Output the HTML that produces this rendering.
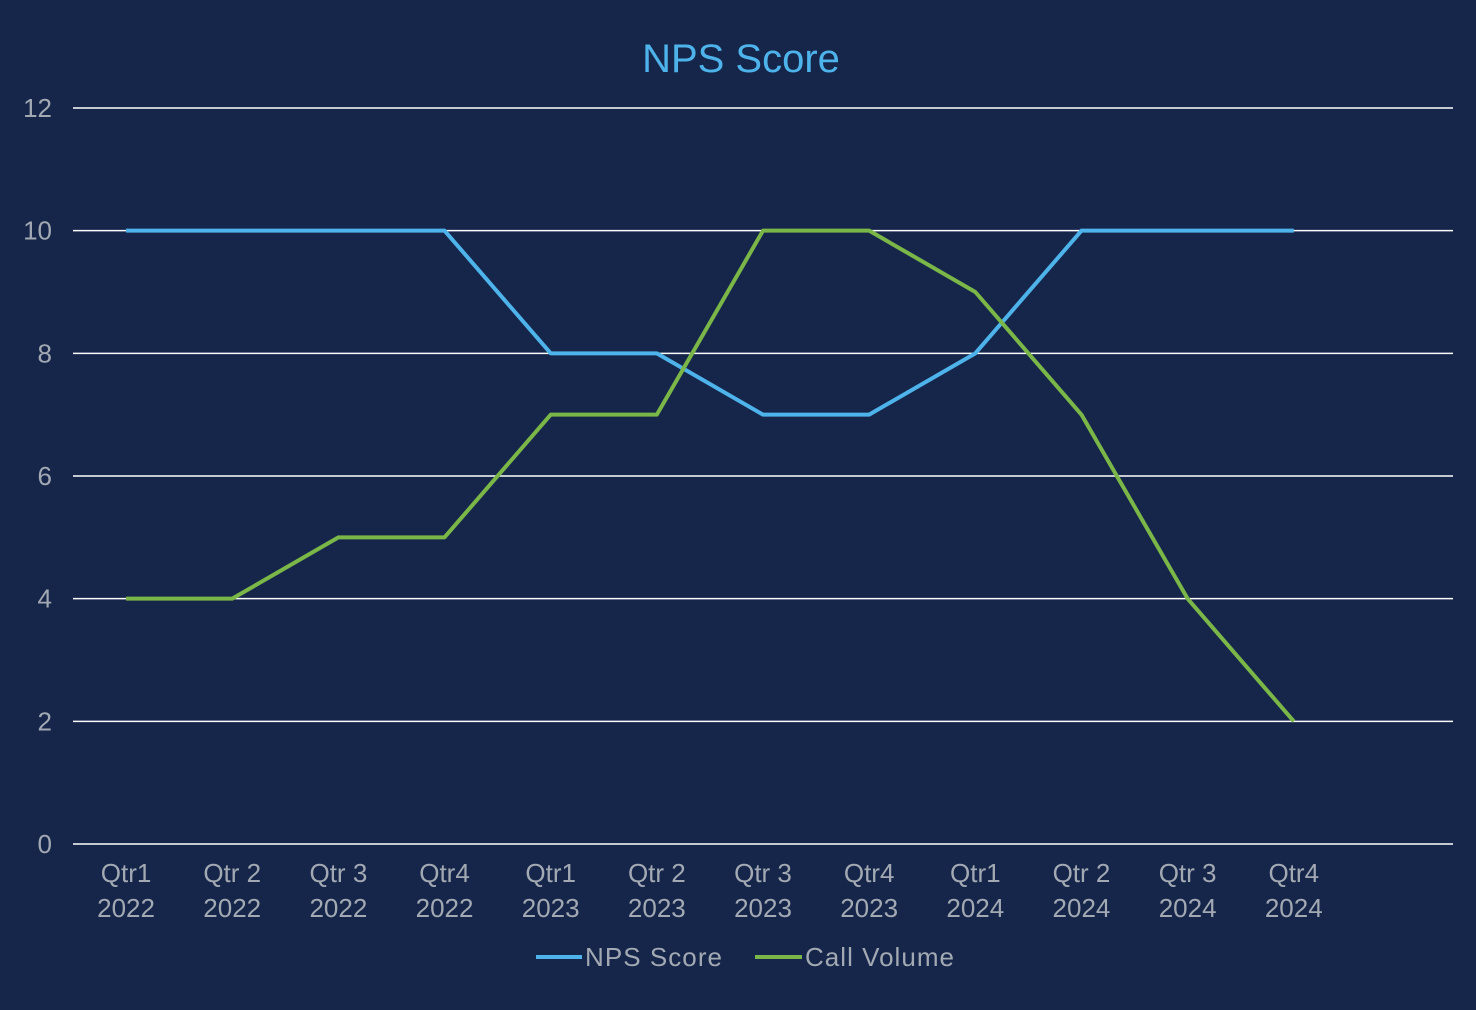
<!DOCTYPE html>
<html><head><meta charset="utf-8">
<style>
html,body{margin:0;padding:0;background:#15264a;}
svg{display:block;font-family:"Liberation Sans",sans-serif;}
</style></head>
<body>
<svg id="chart" width="1476" height="1010" viewBox="0 0 1476 1010">
<rect width="1476" height="1010" fill="#15264a"/>
<text x="741" y="72" text-anchor="middle" font-size="40" fill="#4db3ea">NPS Score</text>
<g id="grid"></g><g id="yticks"></g><g id="xticks"></g><g id="series"></g>
<g>
<line x1="536" y1="957" x2="582" y2="957" stroke="#4db3ea" stroke-width="4"/>
<text x="585" y="966" font-size="26" fill="#a3a9b3" textLength="137">NPS Score</text>
<line x1="755" y1="957" x2="802" y2="957" stroke="#7ab648" stroke-width="4"/>
<text x="805" y="966" font-size="26" fill="#a3a9b3" textLength="149">Call Volume</text>
</g>
</svg>
<script>
const categories=[["Qtr1","2022"],["Qtr 2","2022"],["Qtr 3","2022"],["Qtr4","2022"],["Qtr1","2023"],["Qtr 2","2023"],["Qtr 3","2023"],["Qtr4","2023"],["Qtr1","2024"],["Qtr 2","2024"],["Qtr 3","2024"],["Qtr4","2024"]];
const npsValues=[10,10,10,10,8,8,7,7,8,10,10,10];
const callValues=[4,4,5,5,7,7,10,10,9,7,4,2];
const yTicks=[0,2,4,6,8,10,12];
const SVGNS="http://www.w3.org/2000/svg";
const plotLeft=73,plotRight=1453,plotTop=108,plotBottom=844,slotCount=13,yMaxVal=12;
const bandW=(plotRight-plotLeft)/slotCount;
function xs(i){return plotLeft+bandW*(i+0.5);}
function ys(v){return plotBottom-(plotBottom-plotTop)*v/yMaxVal;}
function mk(tag,attrs,parent){const e=document.createElementNS(SVGNS,tag);for(const k in attrs)e.setAttribute(k,attrs[k]);parent.appendChild(e);return e;}
const gGrid=document.getElementById('grid'),gY=document.getElementById('yticks'),gX=document.getElementById('xticks'),gSer=document.getElementById('series');
yTicks.forEach(v=>{
  const l=mk('line',{x1:plotLeft,x2:plotRight,y1:ys(v),y2:ys(v),stroke:'#ffffff','stroke-width':1.5},gGrid);
  
  
  const t=mk('text',{x:52,y:ys(v)+9,'text-anchor':'end','font-size':26,fill:'#a3a9b3'},gY);
  t.textContent=v;
  
  
});
categories.forEach((c,i)=>{
  const t=mk('text',{x:xs(i),y:882,'text-anchor':'middle','font-size':26,fill:'#a3a9b3'},gX);
  
  
  const a=mk('tspan',{x:xs(i),dy:0},t);a.textContent=c[0];
  const b=mk('tspan',{x:xs(i),dy:35},t);b.textContent=c[1];
});
function drawLine(vals,color,name){
  const p=mk('polyline',{points:vals.map((v,i)=>xs(i)+','+ys(v)).join(' '),fill:'none',stroke:color,'stroke-width':4,'stroke-linejoin':'round'},gSer);
  
  
}
drawLine(npsValues,'#4db3ea','nps-score-line');
drawLine(callValues,'#7ab648','call-volume-line');
</script>
</body></html>
